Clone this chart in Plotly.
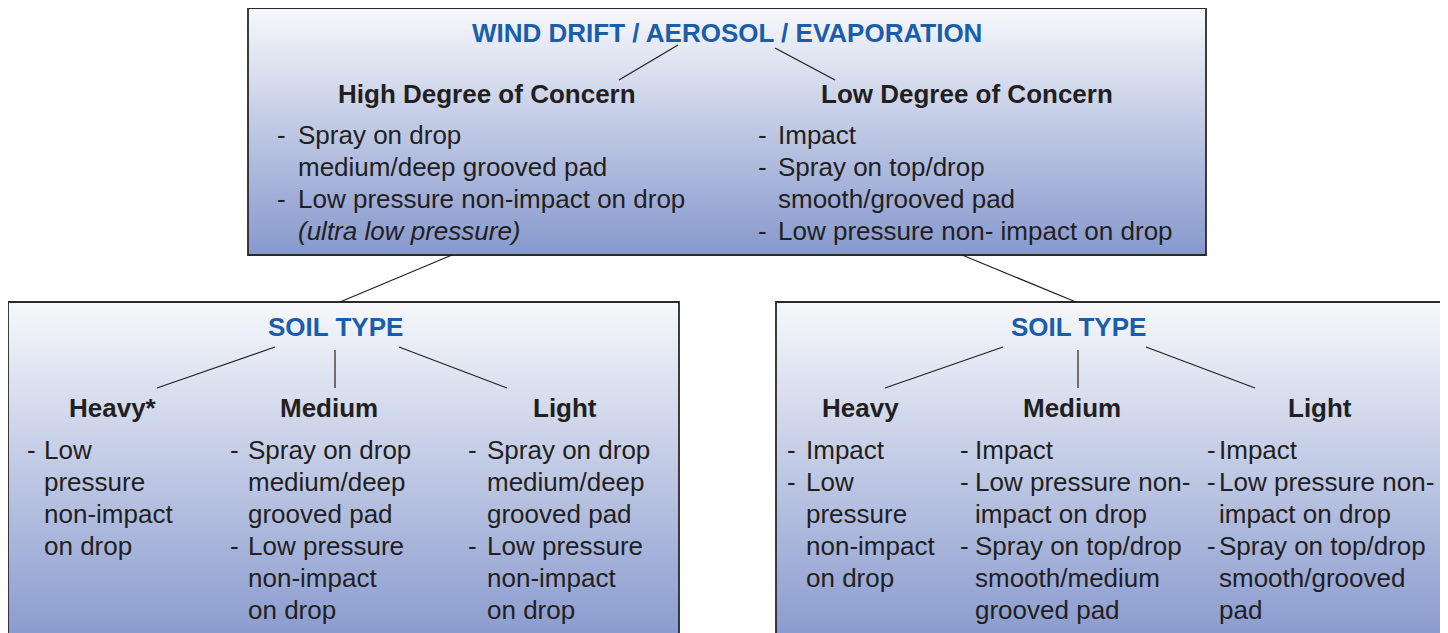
import plotly.graph_objects as go

W, H = 1448, 633
OFF = 8  # page body margin

# ---------------- text content ----------------
top_title = "WIND DRIFT / AEROSOL / EVAPORATION"
concern_heads = ["High Degree of Concern", "Low Degree of Concern"]
high_concern = [("-", "Spray on drop"), ("", "medium/deep grooved pad"),
                ("-", "Low pressure non-impact on drop"), ("", "<i>(ultra low pressure)</i>")]
low_concern = [("-", "Impact"), ("-", "Spray on top/drop"), ("", "smooth/grooved pad"),
               ("-", "Low pressure non- impact on drop")]

soil_title = "SOIL TYPE"
soil_heads_left = ["Heavy*", "Medium", "Light"]
soil_heads_right = ["Heavy", "Medium", "Light"]

left_heavy = [("-", "Low"), ("", "pressure"), ("", "non-impact"), ("", "on drop")]
left_medium = [("-", "Spray on drop"), ("", "medium/deep"), ("", "grooved pad"),
               ("-", "Low pressure"), ("", "non-impact"), ("", "on drop")]
left_light = [("-", "Spray on drop"), ("", "medium/deep"), ("", "grooved pad"),
              ("-", "Low pressure"), ("", "non-impact"), ("", "on drop")]

right_heavy = [("-", "Impact"), ("-", "Low"), ("", "pressure"), ("", "non-impact"), ("", "on drop")]
right_medium = [("-", "Impact"), ("-", "Low pressure non-"), ("", "impact on drop"),
                ("-", "Spray on top/drop"), ("", "smooth/medium"), ("", "grooved pad")]
right_light = [("-", "Impact"), ("-", "Low pressure non-"), ("", "impact on drop"),
               ("-", "Spray on top/drop"), ("", "smooth/grooved"), ("", "pad")]

# ---------------- styling ----------------
FONT = "Liberation Sans, Arial, Helvetica, sans-serif"
BLUE = "#1b5daa"
INK = "#231f20"
EDGE = "#2a2a2a"
TOP_RGB = (247, 248, 251)
BOT_RGB = (134, 152, 205)

fig = go.Figure()
shapes = []
annotations = []


def gradient_box(x0, y0, x1, y1, full_h=None, step=2):
    full_h = full_h or (y1 - y0)
    y = y0
    while y < y1:
        t = min(1.0, (y - y0 + step / 2) / full_h)
        c = tuple(round(TOP_RGB[i] + (BOT_RGB[i] - TOP_RGB[i]) * t) for i in range(3))
        shapes.append(dict(type="rect", xref="x", yref="y", x0=x0, x1=x1, y0=y,
                           y1=min(y + step + 0.6, y1), fillcolor="rgb(%d,%d,%d)" % c,
                           line=dict(width=0), layer="below"))
        y += step
    shapes.append(dict(type="rect", xref="x", yref="y", x0=x0, x1=x1, y0=y0, y1=y1,
                       fillcolor="rgba(0,0,0,0)", line=dict(color=EDGE, width=1.8),
                       layer="above"))


def line(x0, y0, x1, y1, w=1.2):
    shapes.append(dict(type="line", xref="x", yref="y", x0=x0, y0=y0, x1=x1, y1=y1,
                       line=dict(color=INK, width=w), layer="above"))


def text(x, y, s, size=26, color=INK, bold=False, anchor="center"):
    if bold:
        s = "<b>%s</b>" % s
    annotations.append(dict(x=x, y=y, xref="x", yref="y", text=s, showarrow=False,
                            xanchor=anchor, yanchor="middle",
                            font=dict(family=FONT, size=size, color=color)))


def bullet_list(items, x_dash, x_text, y0, dy=32):
    for k, (d, s) in enumerate(items):
        y = y0 + k * dy
        if d:
            text(x_dash, y, d, anchor="center")
        text(x_text - 2, y, s, anchor="left")


# ---------------- boxes ----------------
gradient_box(248, 8, 1206, 255)
gradient_box(8, 302, 679, 640, full_h=345)
gradient_box(776, 302, 1443, 640, full_h=345)

# connectors
line(727, 0, 727, 8)
line(678, 45, 619, 80)
line(775, 48, 835, 80)
line(452, 255, 340, 302)
line(962, 255, 1076, 302)

# top box
text(727, 33, top_title, size=26, color=BLUE, bold=True)
text(487, 94, concern_heads[0], bold=True)
text(967, 94, concern_heads[1], bold=True)
bullet_list(high_concern, 281, 298, 135)
bullet_list(low_concern, 762, 778, 135)

# bottom-left box
text(335, 327, soil_title, color=BLUE, bold=True)
line(275, 347, 157, 388)
line(335, 350, 335, 388)
line(399, 347, 507, 388)
text(113, 408, soil_heads_left[0], bold=True)
text(329, 408, soil_heads_left[1], bold=True)
text(565, 408, soil_heads_left[2], bold=True)
bullet_list(left_heavy, 31, 44, 450)
bullet_list(left_medium, 234, 248, 450)
bullet_list(left_light, 472, 487, 450)

# bottom-right box
text(1078, 327, soil_title, color=BLUE, bold=True)
line(1003, 347, 885, 388)
line(1078, 350, 1078, 388)
line(1146, 347, 1255, 388)
text(860, 408, soil_heads_right[0], bold=True)
text(1072, 408, soil_heads_right[1], bold=True)
text(1320, 408, soil_heads_right[2], bold=True)
bullet_list(right_heavy, 791, 806, 450)
bullet_list(right_medium, 964, 975, 450)
bullet_list(right_light, 1211, 1219, 450)

fig.update_layout(
    width=W - OFF, height=H - OFF,
    margin=dict(l=0, r=0, t=0, b=0),
    paper_bgcolor="white", plot_bgcolor="white",
    xaxis=dict(range=[OFF, W], visible=False, fixedrange=True),
    yaxis=dict(range=[H, OFF], visible=False, fixedrange=True),
    shapes=shapes, annotations=annotations, showlegend=False,
)

fig.write_html("out.html", config={"displayModeBar": False})
